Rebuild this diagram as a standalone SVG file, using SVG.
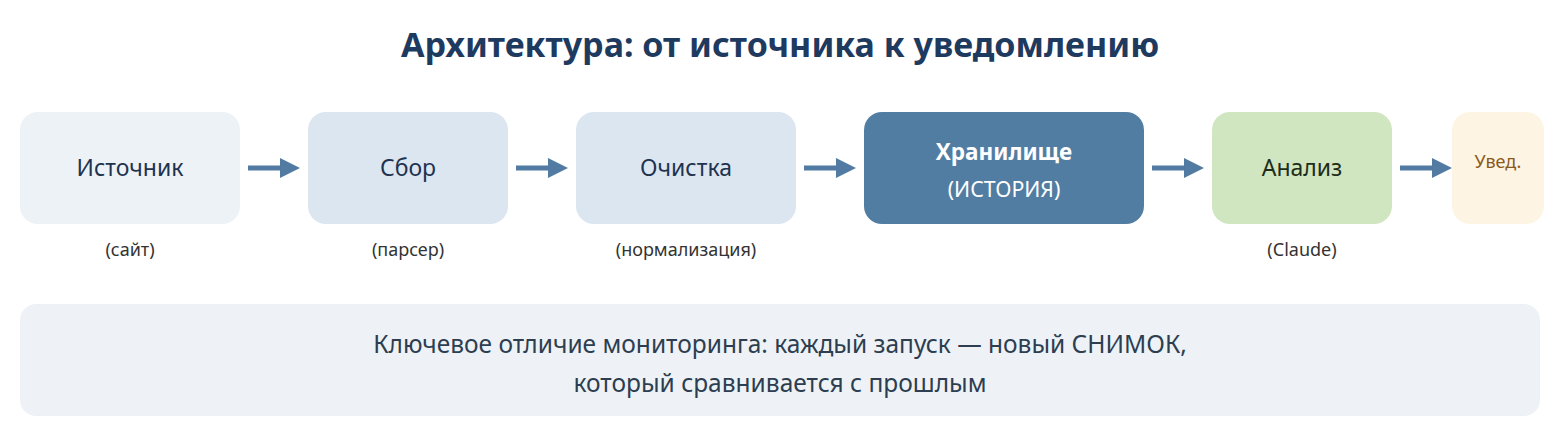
<svg xmlns="http://www.w3.org/2000/svg" width="1560" height="440" viewBox="0 0 1560 440">
<defs>
<style>
text{font-family:"Noto Sans","Open Sans","DejaVu Sans",sans-serif;text-anchor:middle}
.title{font-size:34px;font-weight:700;fill:#1f3a5f}
.lbl{font-size:23px;fill:#1f3350}
.sub{font-size:18px;fill:#333333}
.note{font-size:24.5px;fill:#2c3e50}
.conn{stroke:#527ba3;stroke-width:5;fill:none}
.head{fill:#527ba3}
</style>
</defs>
<rect width="1560" height="440" fill="#ffffff"/>
<text class="title" x="780" y="57">Архитектура: от источника к уведомлению</text>
<g id="n1"><rect x="20" y="112" width="220" height="112" rx="18" fill="#edf2f7"/><text class="lbl" x="130" y="176">Источник</text><text class="sub" x="130" y="256">(сайт)</text></g>
<g id="n2"><rect x="308" y="112" width="200" height="112" rx="18" fill="#dce6f0"/><text class="lbl" x="408" y="176">Сбор</text><text class="sub" x="408" y="256">(парсер)</text></g>
<g id="n3"><rect x="576" y="112" width="220" height="112" rx="18" fill="#dce6f0"/><text class="lbl" x="686" y="176">Очистка</text><text class="sub" x="686" y="256">(нормализация)</text></g>
<g id="n4"><rect x="864" y="112" width="280" height="112" rx="18" fill="#527da3"/><text x="1004" y="160" style="font-size:22.5px;font-weight:700;fill:#ffffff">Хранилище</text><text x="1004" y="197" style="font-size:21.3px;fill:#ffffff">(ИСТОРИЯ)</text></g>
<g id="n5"><rect x="1212" y="112" width="180" height="112" rx="18" fill="#d0e6c0"/><text class="lbl" x="1302" y="176" style="fill:#1e2d1a">Анализ</text><text class="sub" x="1302" y="256">(Claude)</text></g>
<g id="n6"><rect x="1452" y="112" width="92" height="112" rx="18" fill="#fef4e4"/><text x="1498" y="168" style="font-size:18px;fill:#8a5a1a">Увед.</text></g>
<g id="connectors">
<line class="conn" x1="248" y1="168" x2="282" y2="168"/><polygon class="head" points="280,158 300,168 280,178"/>
<line class="conn" x1="516" y1="168" x2="550" y2="168"/><polygon class="head" points="548,158 568,168 548,178"/>
<line class="conn" x1="804" y1="168" x2="838" y2="168"/><polygon class="head" points="836,158 856,168 836,178"/>
<line class="conn" x1="1152" y1="168" x2="1186" y2="168"/><polygon class="head" points="1184,158 1204,168 1184,178"/>
<line class="conn" x1="1400" y1="168" x2="1434" y2="168"/><polygon class="head" points="1432,158 1452,168 1432,178"/>
</g>
<g id="note"><rect x="20" y="304" width="1520" height="112" rx="16" fill="#eef2f7"/><text class="note" x="780" y="353">Ключевое отличие мониторинга: каждый запуск — новый СНИМОК,</text><text class="note" x="780" y="392">который сравнивается с прошлым</text></g>
</svg>
